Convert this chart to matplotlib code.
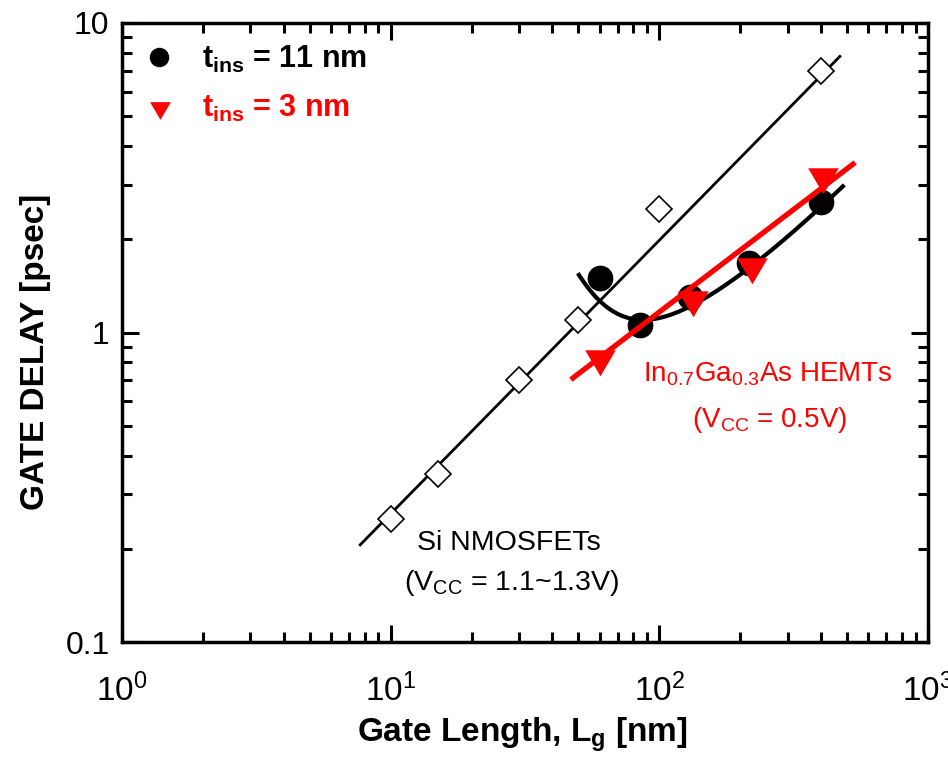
import numpy as np
import matplotlib
matplotlib.use("Agg")
import matplotlib.pyplot as plt
from matplotlib.ticker import LogLocator, NullFormatter, FixedLocator, FixedFormatter

plt.rcParams['font.family'] = ['Liberation Sans', 'DejaVu Sans']
plt.rcParams['mathtext.fontset'] = 'custom'
plt.rcParams['mathtext.rm'] = 'Liberation Sans'
plt.rcParams['mathtext.it'] = 'Liberation Sans:italic'
plt.rcParams['mathtext.bf'] = 'Liberation Sans:bold'

# ---- data ----
si_lg = [10, 15, 30, 50, 100, 400]
si_delay = [0.25, 0.35, 0.70, 1.10, 2.50, 7.0]
si_fit_lg = [7.7, 470]
si_fit_delay = [0.206, 7.8]

t11_lg = [60, 85, 130, 215, 400]
t11_delay = [1.50, 1.06, 1.30, 1.68, 2.64]
t11_curve_lg = [50.2, 60, 88, 130, 215, 400, 482]
t11_curve_delay = [1.53, 1.27, 1.11, 1.21, 1.60, 2.55, 2.97]

t3_lg = [60, 133, 221, 405]
t3_delay = [0.80, 1.25, 1.59, 3.10]
t3_fit_lg = [47.7, 526]
t3_fit_delay = [0.713, 3.50]

x_ticks = [1, 10, 100, 1000]
x_ticklabels = ['$10^{0}$', '$10^{1}$', '$10^{2}$', '$10^{3}$']
y_ticks = [0.1, 1, 10]
y_ticklabels = ['0.1', '1', '10']

RED = '#ff0000'

fig = plt.figure(figsize=(9.48, 7.57), dpi=100)
ax = fig.add_axes([122/948, 1-642/757, 806/948, 619/757])
ax.set_xscale('log')
ax.set_yscale('log')
ax.set_xlim(1, 1000)
ax.set_ylim(0.1, 10)

# smooth curve for 11 nm data (model a/x^3 + b x + c fitted to read curve points)
cx = np.array(t11_curve_lg, float)
cy = np.array(t11_curve_delay, float)
A = np.vstack([1/cx**3, cx, np.ones_like(cx)]).T
coef, *_ = np.linalg.lstsq(A, cy, rcond=None)
xs = np.logspace(np.log10(cx.min()), np.log10(cx.max()), 300)
ys = coef[0]/xs**3 + coef[1]*xs + coef[2]

ax.plot(si_fit_lg, si_fit_delay, color='black', lw=2.0, zorder=2)
ax.plot(si_lg, si_delay, linestyle='none', marker='D', markersize=13,
        markerfacecolor='white', markeredgecolor='black', markeredgewidth=1.2, zorder=3)

ax.plot(xs, ys, color='black', lw=3.0, zorder=4)
ax.plot(t11_lg, t11_delay, linestyle='none', marker='o', markersize=17.5,
        color='black', zorder=5)

tri = [(-1, 0.8), (1, 0.8), (0, -0.9), (-1, 0.8)]
ax.plot(t3_fit_lg, t3_fit_delay, color=RED, lw=3.8, zorder=6)
ax.plot(t3_lg, t3_delay, linestyle='none', marker=tri, markersize=22,
        color=RED, markeredgewidth=0, zorder=7)

# axes styling
for s in ax.spines.values():
    s.set_linewidth(2.5)
ax.xaxis.set_major_locator(FixedLocator(x_ticks))
ax.xaxis.set_major_formatter(FixedFormatter(x_ticklabels))
ax.yaxis.set_major_locator(FixedLocator(y_ticks))
ax.yaxis.set_major_formatter(FixedFormatter(y_ticklabels))
ax.xaxis.set_minor_locator(LogLocator(base=10, subs=np.arange(2, 10), numticks=20))
ax.yaxis.set_minor_locator(LogLocator(base=10, subs=np.arange(2, 10), numticks=20))
ax.xaxis.set_minor_formatter(NullFormatter())
ax.yaxis.set_minor_formatter(NullFormatter())
ax.tick_params(which='both', direction='in', top=True, right=True, width=2.2)
ax.tick_params(which='major', length=12)
ax.tick_params(which='minor', length=7)
ax.tick_params(axis='x', which='major', labelsize=24, pad=23)
ax.tick_params(axis='y', which='major', labelsize=23, pad=9)

fig.text(36/948, 1-352/757, 'GATE DELAY [psec]', rotation=90, ha='center', va='center',
         fontsize=24, fontweight='bold')
fig.text(522/948, 1-742/757, r'Gate Length, L$_\mathbf{g}$ [nm]', ha='center', va='baseline',
         fontsize=24, fontweight='bold')

# legend (manual)
ax.plot([0.0459], [0.945], transform=ax.transAxes, marker='o', markersize=13,
        color='black', linestyle='none', clip_on=False)
ax.plot([0.0471], [0.859], transform=ax.transAxes, marker=tri, markersize=15,
        color=RED, markeredgewidth=0, linestyle='none', clip_on=False)
ax.text(0.0993, 0.927, r'$\mathbf{t}_\mathbf{ins}$ = 11 nm', transform=ax.transAxes,
        fontsize=22, fontweight='bold', va='baseline', ha='left', color='black')
ax.text(0.0993, 0.848, r'$\mathbf{t}_\mathbf{ins}$ = 3 nm', transform=ax.transAxes,
        fontsize=22, fontweight='bold', va='baseline', ha='left', color=RED)

# annotations
ax.text((509-122)/806, (642-550)/619, 'Si NMOSFETs', transform=ax.transAxes,
        fontsize=20.5, ha='center', va='baseline', color='black')
ax.text((512-122)/806, (642-590)/619, r'(V$_\mathrm{CC}$ = 1.1~1.3V)', transform=ax.transAxes,
        fontsize=20.5, ha='center', va='baseline', color='black')
ax.text((768-122)/806, (642-382)/619, r'In$_\mathrm{0.7}$Ga$_\mathrm{0.3}$As HEMTs', transform=ax.transAxes,
        fontsize=20, ha='center', va='baseline', color=RED)
ax.text((770-122)/806, (642-427)/619, r'(V$_\mathrm{CC}$ = 0.5V)', transform=ax.transAxes,
        fontsize=20, ha='center', va='baseline', color=RED)

fig.savefig('out.png', dpi=100)
